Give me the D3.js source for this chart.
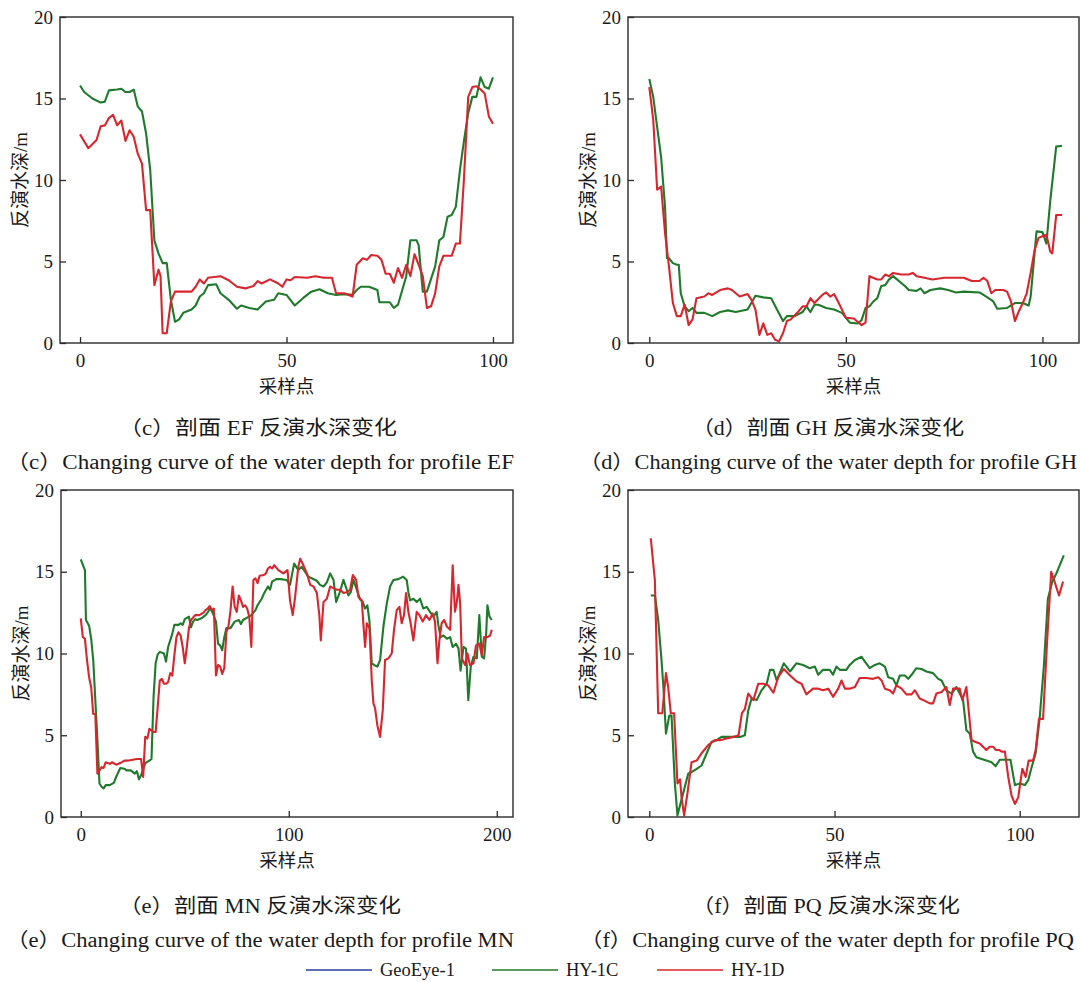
<!DOCTYPE html>
<html>
<head>
<meta charset="utf-8">
<script src="https://cdn.jsdelivr.net/npm/d3@7"></script>
<style>
  body { margin: 0; background: #fff; }
  svg text { fill: #1a1a1a; }
</style>
</head>
<body>
<svg id="fig" width="1081" height="982"></svg>
<script>
// ---- Inverted water depth along four profiles: [sample point, depth (m)] ----
const seriesNames = ["GeoEye-1", "HY-1C", "HY-1D"];
const depthTicks = [0, 5, 10, 15, 20];

// Profile EF
const efSampleTicks = [0, 50, 100];
const efHY1C = [[0,15.8],[1,15.4],[3,15.0],[5,14.75],[6,14.8],[7,15.5],[9,15.55],[10,15.6],[11,15.4],[12,15.4],[13,15.55],[14,14.5],[15,14.2],[16,12.85],[17,10.6],[18,6.3],[19,5.5],[20,4.9],[21,4.9],[22,2.65],[23,1.3],[24,1.45],[25,1.85],[27,2.05],[28,2.3],[29,2.85],[30,3.05],[31,3.55],[33,3.6],[34,3.05],[36,2.65],[38,2.1],[39,2.3],[41,2.15],[43,2.05],[45,2.55],[47,2.65],[48,3.05],[50,2.95],[52,2.3],[54,2.75],[56,3.15],[58,3.3],[60,3.05],[62,2.95],[64,3.0],[66,2.95],[67,3.25],[68,3.45],[70,3.45],[72,3.25],[72.5,2.5],[75,2.5],[76,2.15],[77,2.35],[79,4.1],[80,6.3],[81.5,6.3],[82,6.0],[83,3.15],[84,3.15],[86,4.7],[87,6.3],[88,6.5],[89,7.75],[90,7.85],[91,8.35],[92,10.6],[93,12.45],[94,14.1],[95,15.1],[96,15.1],[97,16.3],[98,15.7],[99,15.6],[100,16.3]];
const efHY1D = [[0,12.8],[2,11.95],[4,12.45],[5,13.3],[6,13.35],[7,13.8],[8,14.0],[9,13.35],[10,13.65],[11,12.4],[12,13.05],[13,12.65],[14,11.6],[15,11.0],[16,8.15],[17,8.15],[18,3.55],[19,4.5],[19.5,4.1],[20,0.6],[21,0.6],[22,2.55],[23,3.15],[25,3.15],[27,3.15],[28,3.45],[29,3.9],[30,3.65],[31,4.0],[34,4.1],[36,3.85],[38,3.45],[40,3.35],[42,3.5],[43,3.8],[44,3.65],[46,3.9],[48,3.65],[49,3.45],[50,3.9],[51,3.85],[52,4.05],[55,4.0],[57,4.1],[59,4.0],[61,4.0],[62,3.05],[64,3.05],[66,2.85],[67,4.8],[68.5,5.2],[69.5,5.1],[70.5,5.4],[72,5.35],[73,5.1],[74,4.25],[75,4.25],[76,3.7],[77,4.6],[78,4.0],[79,4.8],[80,4.1],[81,5.45],[82,4.8],[83,4.1],[84,2.15],[85,2.25],[86,3.05],[87,4.7],[88,5.35],[90,5.35],[91,6.1],[92,6.1],[93,10.2],[94,15.1],[95,15.7],[96,15.75],[97,15.55],[98,15.3],[99,13.9],[100,13.45]];

// Profile GH
const ghSampleTicks = [0, 50, 100];
const ghHY1C = [[0,16.2],[1,15.1],[2,13.25],[3,11.4],[4,8.35],[4.5,5.2],[5,5.2],[6,4.9],[7,4.8],[7.5,4.8],[8,3.05],[9,2.25],[10,1.95],[11,2.15],[12,1.85],[14,1.85],[16,1.65],[18,1.9],[20,2.0],[22,1.9],[25,2.05],[27,2.9],[29,2.8],[31,2.75],[34,1.35],[35,1.65],[37,1.65],[39,1.9],[40,2.25],[41,1.9],[42,2.35],[43,2.35],[45,2.15],[47,2.05],[49,1.85],[51,1.25],[53,1.2],[54,1.4],[55,2.15],[56,2.25],[57,2.55],[58,2.75],[59,3.5],[60,3.55],[61,3.9],[62,4.1],[63,3.9],[65,3.5],[66,3.25],[68,3.2],[69,3.35],[70,3.05],[71.5,3.25],[74,3.35],[76,3.25],[78,3.1],[80,3.15],[84,3.1],[86,2.8],[87.5,2.55],[88.5,2.1],[91,2.15],[93,2.45],[95,2.45],[96.5,2.3],[97,2.85],[98.5,6.85],[100,6.8],[101,6.1],[102,8.75],[103.5,12.05],[105,12.1]];
const ghHY1D = [[0,15.7],[1,13.7],[2,9.4],[3,9.6],[4,6.75],[5,4.7],[6,2.45],[7,1.65],[8,1.65],[9,2.35],[10,1.1],[11,1.45],[12,2.75],[14,2.85],[15,3.05],[16,2.95],[18,3.25],[20,3.35],[21,3.25],[23,2.85],[25,3.0],[26,2.65],[27,2.05],[28,0.5],[29,1.2],[30,0.5],[31,0.6],[32,0.2],[33,0.1],[34,0.6],[35,1.35],[36,1.45],[38,1.95],[39,2.25],[40,2.25],[41,2.75],[42,2.45],[44,2.95],[45,3.1],[46,2.85],[47,3.0],[48,2.55],[49,2.05],[50,1.55],[52,1.5],[54,1.1],[55,1.25],[56,4.1],[58,3.9],[59,3.9],[60,4.2],[61,4.1],[62,4.3],[64,4.2],[66,4.2],[67,4.3],[68,4.1],[70,4.0],[72,3.9],[75,4.0],[80,4.0],[82,3.8],[84,3.8],[85,4.0],[86,3.8],[87,3.05],[88,3.25],[90,3.25],[91,3.15],[92,2.55],[93,1.35],[94,1.95],[95,2.45],[96,3.05],[97,4.3],[98,5.7],[99,6.45],[100,6.55],[101,6.65],[102,5.6],[102.5,5.5],[103.5,7.85],[105,7.85]];

// Profile MN
const mnSampleTicks = [0, 100, 200];
const mnHY1C = [[0,15.75],[2,15.1],[2.5,12.05],[4,11.7],[5,10.9],[6,9.6],[7,7.15],[8,4.7],[9,2.05],[10,1.85],[11,1.75],[12,1.95],[14,1.95],[16,2.1],[17,2.45],[19,3.0],[21,2.95],[22,2.85],[24,2.85],[26,2.65],[27,2.8],[28,2.3],[29,2.55],[31,3.3],[33,3.45],[34,3.55],[35,7.35],[36,9.4],[37,9.95],[38,10.1],[40,10.0],[41,9.5],[42,10.4],[43,10.8],[44,11.2],[45,11.75],[47,11.75],[48,11.85],[49,11.75],[50,12.1],[52,12.25],[53,11.6],[54,11.95],[55,12.1],[56,12.05],[58,12.15],[60,12.35],[61,12.5],[62,12.75],[63,12.6],[64,12.3],[65,11.95],[66,10.6],[67,10.5],[68,10.2],[69,11.0],[70,11.55],[72,11.55],[73,11.75],[74,11.95],[76,12.05],[77,11.8],[78,12.05],[80,12.2],[82,12.35],[84,12.65],[85,12.95],[87,13.35],[88,13.65],[90,14.1],[91,13.9],[92,14.4],[94,14.55],[96,14.55],[99,14.5],[100.6,14.2],[102.6,15.5],[104.6,15.1],[106.2,15.3],[107.8,15.0],[109.4,14.7],[111,14.6],[113.5,14.45],[115,14.2],[116.7,14.1],[118.3,14.35],[119.9,14.9],[121.5,14.5],[122.8,13.15],[124.4,13.7],[126.3,14.5],[127.9,13.9],[128.7,13.55],[129.8,13.75],[131.1,14.5],[132.7,13.9],[134.3,13.3],[135.6,13.15],[136.7,12.75],[137.8,12.95],[138.8,11.95],[139.9,9.4],[141,9.3],[142.6,9.2],[143.9,9.6],[145.5,11.65],[147.1,13.05],[148.7,14.1],[150.3,14.5],[152.7,14.55],[155,14.7],[156.7,14.5],[157.5,13.75],[158.3,13.25],[159.9,13.35],[161.5,13.15],[163.1,13.35],[164.7,12.75],[166.3,12.85],[167.9,12.55],[169.5,12.25],[171.1,12.55],[171.9,11.75],[173,11.0],[174.4,11.1],[176,10.9],[177.6,11.0],[178.8,10.4],[180.4,10.6],[181.6,10.3],[182.6,8.95],[184,10.4],[185.2,10.3],[186.3,7.15],[187.5,9.2],[188.8,9.8],[190.4,9.7],[191.6,12.35],[192.8,9.8],[193.9,9.7],[194.9,11.2],[195.5,12.95],[196.5,12.25],[197.6,12.05]];
const mnHY1D = [[0,12.15],[1,11.0],[2,10.9],[3,9.6],[4,8.55],[5,7.95],[6,6.3],[7,6.3],[8,2.65],[9,2.85],[10,3.05],[11,3.0],[12,3.35],[14,3.25],[15,3.35],[17,3.2],[19,3.3],[21,3.45],[23,3.45],[25,3.5],[27,3.55],[29,3.55],[30,2.45],[31,4.9],[32,4.8],[33,5.4],[34,5.3],[35,5.2],[36,5.2],[37,6.75],[38,8.35],[39,8.45],[40,8.15],[41,8.15],[42,8.25],[43,8.8],[44,8.65],[45,9.9],[46,11.0],[47,11.3],[48,11.1],[49,10.4],[50,9.4],[51,10.4],[52,11.55],[53,12.05],[55,12.35],[57,12.35],[59,12.5],[60,12.65],[61,12.75],[62,12.9],[63,12.65],[64,12.75],[65,8.65],[66,9.3],[67,9.2],[68,8.75],[69,9.1],[70,11.3],[71,11.65],[72,12.65],[73,14.1],[74,12.85],[75,12.55],[76,13.55],[77,13.25],[78,12.85],[79,12.95],[80,12.75],[81,12.25],[82,10.4],[83,14.5],[84,14.6],[85,14.3],[86,14.75],[88,14.8],[89,14.9],[90,15.2],[91,15.3],[92,15.2],[93,15.4],[95,15.1],[97.4,14.9],[99.4,15.1],[100.6,13.25],[101.9,12.35],[103,13.4],[104.6,15.3],[105.5,15.8],[107,15.4],[108.7,14.9],[110.3,14.2],[111.9,14.1],[113.5,13.7],[114.7,12.35],[115.4,10.8],[116.7,13.15],[118.3,13.35],[119.9,14.1],[121.5,14.0],[123.1,13.9],[124.7,13.9],[126.3,13.7],[127.9,13.75],[129.5,13.9],[130.8,14.8],[132.4,14.5],[133.5,13.45],[135.1,13.25],[135.9,11.75],[136.7,10.4],[137.5,11.85],[138.8,11.55],[139.9,8.35],[140.7,6.95],[141.5,6.65],[142.6,5.6],[143.9,4.9],[145.2,6.55],[146.3,9.6],[147.9,9.7],[149.5,10.0],[150.6,11.45],[151.9,12.65],[153.2,12.85],[154.3,11.85],[155.4,12.35],[156.4,13.7],[157.5,12.55],[158.6,11.85],[159.9,10.8],[161.5,12.55],[162.8,12.35],[164.4,11.95],[166,12.35],[167.6,12.05],[169.2,12.45],[170.3,11.95],[171.5,9.4],[172.4,10.8],[173.5,11.85],[174.7,12.05],[176,11.65],[177.6,11.45],[178.8,15.4],[179.9,12.55],[180.8,13.15],[181.6,14.2],[182.4,13.05],[183.2,9.7],[184.8,9.3],[185.9,10.0],[187.1,9.3],[188.8,9.4],[190,10.5],[191.6,10.6],[192.8,9.9],[193.9,11.0],[195.5,11.0],[196.8,11.1],[197.6,11.45]];

// Profile PQ
const pqSampleTicks = [0, 50, 100];
const pqHY1C = [[0.4,13.55],[1.5,13.55],[2.4,12.05],[3.3,9.6],[3.8,7.95],[4.5,5.1],[5.4,6.2],[6,6.2],[6.9,2.05],[7.6,0.1],[10.5,2.65],[11.4,2.75],[12.8,2.95],[14.1,3.15],[15.5,3.9],[16.8,4.6],[18.2,4.7],[19.5,4.9],[20.9,4.9],[22.7,4.9],[24.5,4.9],[25.8,5.0],[26.7,6.5],[27.6,7.25],[29,7.15],[30.3,7.75],[31.7,8.15],[32.6,9.0],[33.5,9.0],[34.4,8.35],[36.3,9.4],[38,8.9],[39.7,9.4],[41.5,9.3],[43.3,9.1],[44.7,9.2],[45.6,8.7],[46.9,9.0],[48.7,9.0],[49.6,8.7],[50.5,9.2],[51.4,9.0],[53.2,9.0],[54.1,9.3],[55.5,9.6],[57.3,9.8],[58.2,9.5],[59.5,9.1],[60.9,9.3],[62.2,9.4],[63.6,9.2],[64.5,8.55],[65.8,8.45],[66.7,8.05],[67.6,8.65],[69,8.65],[69.9,8.45],[70.8,8.7],[72.1,9.1],[73.5,9.05],[74.8,8.9],[76.6,8.8],[78,8.45],[78.9,8.35],[80.2,7.75],[81.6,7.55],[82.9,7.95],[83.8,7.55],[84.7,7.15],[85.6,5.3],[86.5,5.1],[87.4,4.0],[88.3,3.65],[89.7,3.55],[91,3.45],[92.4,3.35],[93.5,3.1],[94.6,3.5],[96,3.5],[97.5,3.5],[98.7,1.95],[100,2.05],[101.4,1.95],[102.3,2.25],[103.1,2.95],[104.3,3.9],[105.4,6.1],[106.5,9.2],[107.6,13.35],[108.8,14.4],[109.9,14.9],[111.9,16.0]];
const pqHY1D = [[0.4,17.05],[1.5,14.5],[2.4,6.35],[3.5,6.35],[4.5,8.8],[5.1,7.95],[5.8,6.35],[6.7,6.35],[7.6,2.05],[8.3,2.3],[8.7,1.2],[9.4,0.1],[10.3,1.45],[11.4,3.35],[12.8,3.45],[14.1,3.9],[15.9,4.4],[17.7,4.7],[19.1,4.7],[20.9,4.8],[22.7,4.9],[24.1,5.0],[25,6.35],[25.8,6.6],[26.7,7.55],[28.1,7.15],[29.4,8.15],[30.8,8.15],[32.1,8.05],[33.5,7.6],[34.8,8.55],[36.3,9.05],[38,8.65],[39.7,8.3],[41.1,8.15],[42.4,7.5],[44.2,7.85],[45.6,7.85],[46.9,7.75],[48.3,7.85],[49.6,7.35],[51,7.85],[51.9,8.35],[52.8,7.85],[54.1,7.85],[55.5,7.95],[56.8,8.5],[58.6,8.5],[60.4,8.45],[61.8,8.55],[62.7,8.35],[63.6,7.85],[64.9,7.75],[65.8,7.55],[66.7,8.05],[68.1,7.85],[69.4,7.5],[70.8,7.5],[71.7,7.75],[73,7.25],[74.4,7.1],[75.7,6.95],[76.6,6.95],[77.5,7.55],[78.9,7.65],[80.2,7.95],[81.1,6.85],[82,7.85],[83.8,7.85],[84.5,7.15],[85.6,7.95],[87,4.7],[87.9,4.6],[89.2,4.5],[90.1,4.3],[91,4.1],[91.9,4.3],[92.8,4.3],[93.5,4.1],[94.4,4.1],[95.1,4.0],[96,4.0],[96.9,2.45],[97.8,1.3],[98.7,0.8],[99.6,1.2],[100.7,2.95],[101.6,2.45],[102.4,3.45],[103.6,3.45],[104.3,4.1],[105.2,6.0],[106.3,6.0],[107.4,10.8],[108.5,15.0],[109.4,14.4],[110.6,13.55],[111.7,14.4]];

// ---- layout ----
const colors = { "GeoEye-1": "#2e3c9c", "HY-1C": "#1f7a2c", "HY-1D": "#d7262d" };
const tickFont = "'Liberation Serif', 'Times New Roman', serif";
const cjkFont = "'Liberation Serif', 'Noto Sans CJK SC', sans-serif";

const panels = [
  { left: 60, right: 513, top: 17, bottom: 343, xDomain: [-4.85, 104.85], ticks: efSampleTicks,
    c: efHY1C, d: efHY1D,
    cn: "（c）剖面 EF 反演水深变化", cnY: 428, cnW: 278, cnX: 258,
    en: "（c）Changing curve of the water depth for profile EF", enY: 462, enW: 508, enX: 260 },
  { left: 628, right: 1079, top: 17, bottom: 343, xDomain: [-5.42, 109.3], ticks: ghSampleTicks,
    c: ghHY1C, d: ghHY1D,
    cn: "（d）剖面 GH 反演水深变化", cnY: 428, cnW: 272, cnX: 828,
    en: "（d）Changing curve of the water depth for profile GH", enY: 462, enW: 498, enX: 828 },
  { left: 61, right: 513, top: 490, bottom: 817, xDomain: [-9.5, 207.8], ticks: mnSampleTicks,
    c: mnHY1C, d: mnHY1D,
    cn: "（e）剖面 MN 反演水深变化", cnY: 906, cnW: 282, cnX: 260,
    en: "（e）Changing curve of the water depth for profile MN", enY: 940, enW: 508, enX: 260 },
  { left: 628, right: 1079, top: 490, bottom: 817, xDomain: [-5.75, 116], ticks: pqSampleTicks,
    c: pqHY1C, d: pqHY1D,
    cn: "（f）剖面 PQ 反演水深变化", cnY: 906, cnW: 268, cnX: 826,
    en: "（f）Changing curve of the water depth for profile PQ", enY: 940, enW: 494, enX: 827 }
];

const svg = d3.select("#fig");
svg.append("rect").attr("width", 1081).attr("height", 982).attr("fill", "#fff");
const defs = svg.append("defs");

panels.forEach((p, i) => {
  const x = d3.scaleLinear().domain(p.xDomain).range([p.left, p.right]);
  const y = d3.scaleLinear().domain([0, 20]).range([p.bottom, p.top]);
  const g = svg.append("g");

  defs.append("clipPath").attr("id", "clip" + i)
    .append("rect").attr("x", p.left).attr("y", p.top)
    .attr("width", p.right - p.left).attr("height", p.bottom - p.top);

  const line = d3.line().x(d => x(d[0])).y(d => y(d[1]));
  const plot = g.append("g").attr("clip-path", `url(#clip${i})`);
  [["HY-1C", p.c], ["HY-1D", p.d]].forEach(([name, data]) => {
    plot.append("path").datum(data)
      .attr("d", line)
      .attr("fill", "none")
      .attr("stroke", colors[name])
      .attr("stroke-width", 2.1)
      .attr("stroke-linejoin", "round");
  });

  // frame
  g.append("rect").attr("x", p.left).attr("y", p.top)
    .attr("width", p.right - p.left).attr("height", p.bottom - p.top)
    .attr("fill", "none").attr("stroke", "#2a2a2a").attr("stroke-width", 1.4);

  // x axis, ticks pointing inward
  const xa = g.append("g").attr("transform", `translate(0,${p.bottom})`)
    .call(d3.axisBottom(x).tickValues(p.ticks).tickSize(-6).tickPadding(11).tickFormat(d3.format("d")));
  xa.select(".domain").remove();
  xa.selectAll("line").attr("stroke", "#2a2a2a").attr("stroke-width", 1.3);
  xa.selectAll("text").attr("font-family", tickFont).attr("font-size", 19).attr("fill", "#1a1a1a");

  // y axis
  const ya = g.append("g").attr("transform", `translate(${p.left},0)`)
    .call(d3.axisLeft(y).tickValues(depthTicks).tickSize(-6).tickPadding(7).tickFormat(d3.format("d")));
  ya.select(".domain").remove();
  ya.selectAll("line").attr("stroke", "#2a2a2a").attr("stroke-width", 1.3);
  ya.selectAll("text").attr("font-family", tickFont).attr("font-size", 19).attr("fill", "#1a1a1a");

  // axis titles
  g.append("text")
    .attr("transform", `translate(${p.left - 40},${(p.top + p.bottom) / 2}) rotate(-90)`)
    .attr("text-anchor", "middle").attr("dominant-baseline", "central")
    .attr("font-family", cjkFont).attr("font-size", 19)
    .text("反演水深/m");
  g.append("text")
    .attr("x", (p.left + p.right) / 2).attr("y", p.bottom + 42)
    .attr("text-anchor", "middle").attr("dominant-baseline", "central")
    .attr("font-family", "'Noto Sans CJK SC', sans-serif").attr("font-size", 18.5)
    .text("采样点");

  // captions
  g.append("text")
    .attr("x", p.cnX).attr("y", p.cnY)
    .attr("text-anchor", "middle").attr("dominant-baseline", "central")
    .attr("font-family", cjkFont).attr("font-size", 20)
    .attr("textLength", p.cnW).attr("lengthAdjust", "spacingAndGlyphs")
    .text(p.cn);
  g.append("text")
    .attr("x", p.enX).attr("y", p.enY)
    .attr("text-anchor", "middle").attr("dominant-baseline", "central")
    .attr("font-family", cjkFont).attr("font-size", 20)
    .attr("textLength", p.enW).attr("lengthAdjust", "spacingAndGlyphs")
    .text(p.en);
});

// legend
const legend = svg.append("g").attr("transform", "translate(0,970)");
const legendX = d3.scaleOrdinal().domain(seriesNames).range([306, 492, 657]);
seriesNames.forEach(name => {
  const lx = legendX(name);
  legend.append("line").attr("x1", lx).attr("x2", lx + 66).attr("y1", 0).attr("y2", 0)
    .attr("stroke", colors[name]).attr("stroke-width", 1.6);
  legend.append("text").attr("x", lx + 74).attr("y", 0)
    .attr("dominant-baseline", "central")
    .attr("font-family", tickFont).attr("font-size", 18.5)
    .text(name);
});
</script>
</body>
</html>
